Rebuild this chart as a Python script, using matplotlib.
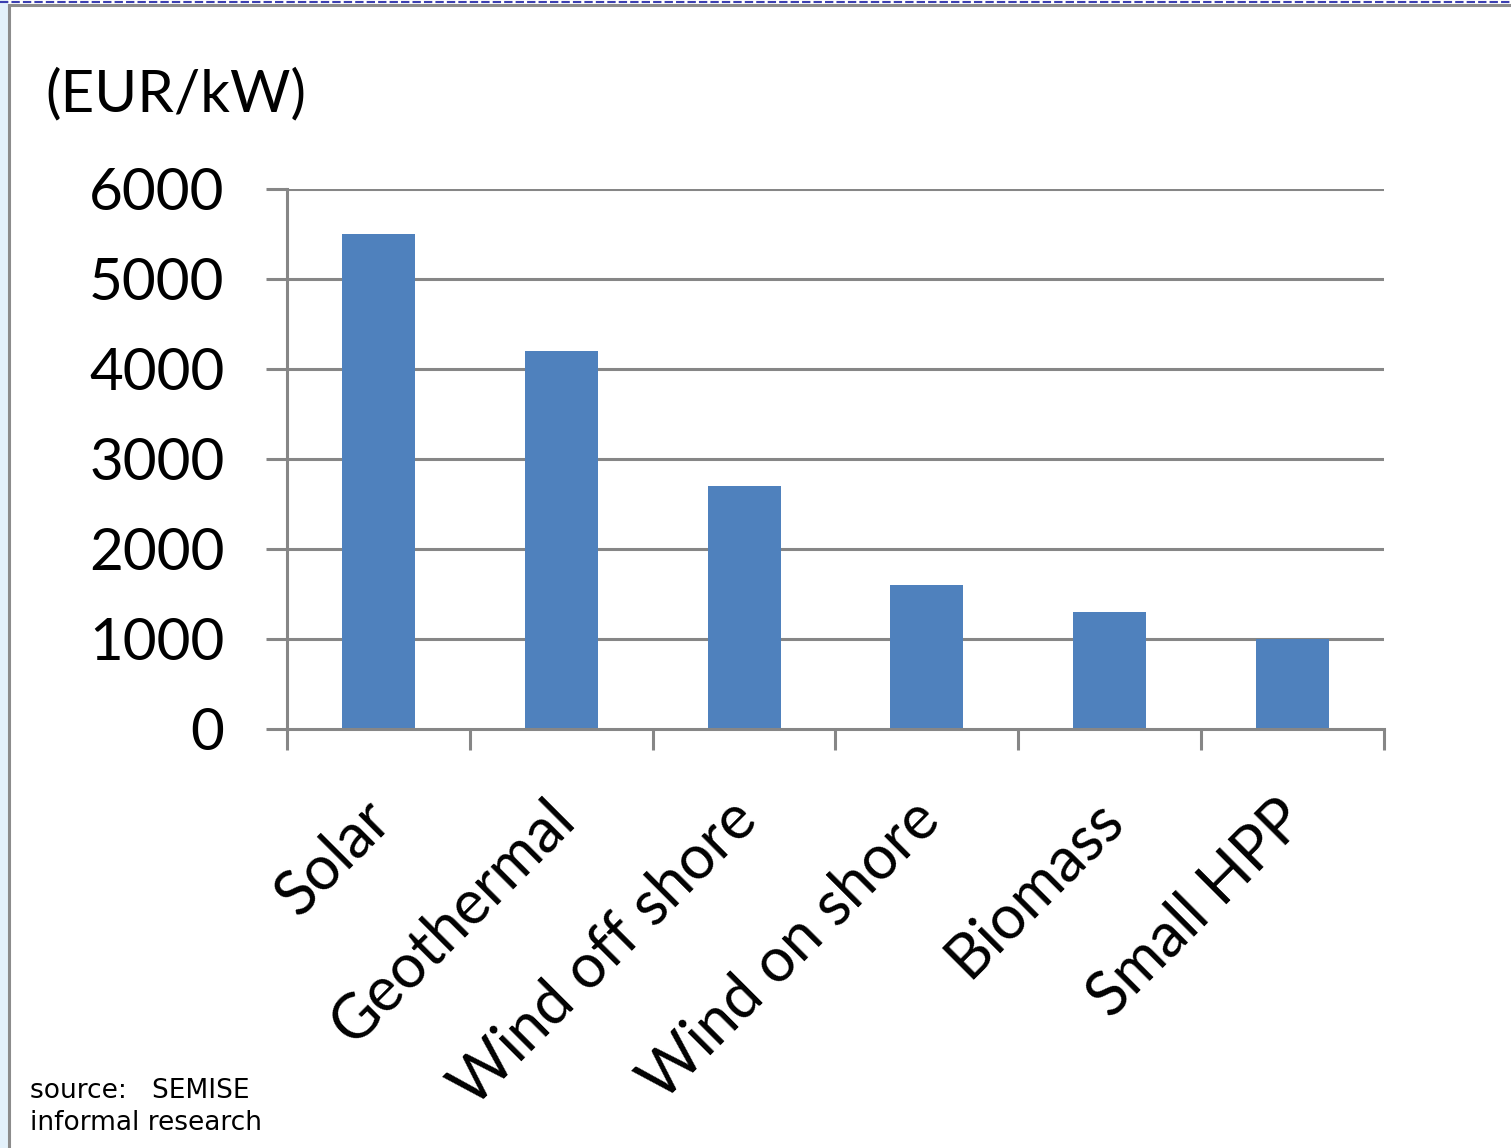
import matplotlib
matplotlib.use("Agg")
import matplotlib.pyplot as plt
from matplotlib.lines import Line2D
from matplotlib.patches import Rectangle
from matplotlib.transforms import ScaledTranslation

categories = ["Solar", "Geothermal", "Wind off shore", "Wind on shore", "Biomass", "Small HPP"]
costs = [5500, 4200, 2700, 1600, 1300, 1000]
yticks = [0, 1000, 2000, 3000, 4000, 5000, 6000]

W, H = 1511, 1148
fig = plt.figure(figsize=(W / 100, H / 100), dpi=100)
fig.patch.set_facecolor("white")

# slide frame: pale blue strip at the left, grey border, dashed blue line on top
fig.add_artist(Rectangle((0, 0), 8 / W, 1, transform=fig.transFigure,
                         facecolor="#e3f1fb", edgecolor="none"))
fig.add_artist(Line2D([9 / W, 9 / W], [0, 1 - 5 / H], transform=fig.transFigure,
                      color="#8c8c8c", lw=2.2))
fig.add_artist(Line2D([9 / W, 1], [1 - 5 / H, 1 - 5 / H], transform=fig.transFigure,
                      color="#8c8c8c", lw=2.2))
fig.add_artist(Line2D([0, 1], [1 - 1.5 / H, 1 - 1.5 / H], transform=fig.transFigure,
                      color="#3b3fb0", lw=1.5, ls=(0, (4, 1.5))))

left, right = 287 / W, 1384 / W
bottom, top = 1 - 729 / H, 1 - 189 / H
ax = fig.add_axes([left, bottom, right - left, top - bottom])

font = "Lato"
grid_color = "#868686"

x = list(range(len(categories)))
ax.bar(x, costs, width=0.4, color="#4f81bd", zorder=3)
ax.set_xlim(-0.5, len(categories) - 0.5)
ax.set_ylim(0, 6000)

for v in yticks[1:]:
    ax.axhline(v, color=grid_color, lw=2.2, zorder=1)

for s in ["top", "right"]:
    ax.spines[s].set_visible(False)
for s in ["left", "bottom"]:
    ax.spines[s].set_color(grid_color)
    ax.spines[s].set_linewidth(2.2)
    ax.spines[s].set_zorder(4)

ax.set_yticks(yticks)
ax.set_yticklabels([str(v) for v in yticks], fontsize=42, family=font)
ax.tick_params(axis="y", length=15, width=2.2, color=grid_color, pad=30)

# category boundaries carry the x ticks
ax.set_xticks([i - 0.5 for i in range(len(categories) + 1)])
ax.set_xticklabels([])
ax.tick_params(axis="x", length=15, width=2.2, color=grid_color)

# rotated category names hang below each bar
shift = ScaledTranslation(-17 / 100, -61 / 100, fig.dpi_scale_trans)
for i, name in zip(x, categories):
    ax.text(i, 0, name, transform=ax.get_xaxis_transform() + shift,
            fontsize=44, family=font, rotation=45, ha="right", va="top",
            rotation_mode="anchor")

fig.text(45 / W, 1 - 95 / H, "(EUR/kW)", fontsize=42, family=font,
         ha="left", va="center")
fig.text(30 / W, 1 - 1091 / H, "source:   SEMISE", fontsize=19,
         family="DejaVu Sans", ha="left", va="center")
fig.text(30 / W, 1 - 1123 / H, "informal research", fontsize=19,
         family="DejaVu Sans", ha="left", va="center")

fig.savefig("out.png", dpi=100)
